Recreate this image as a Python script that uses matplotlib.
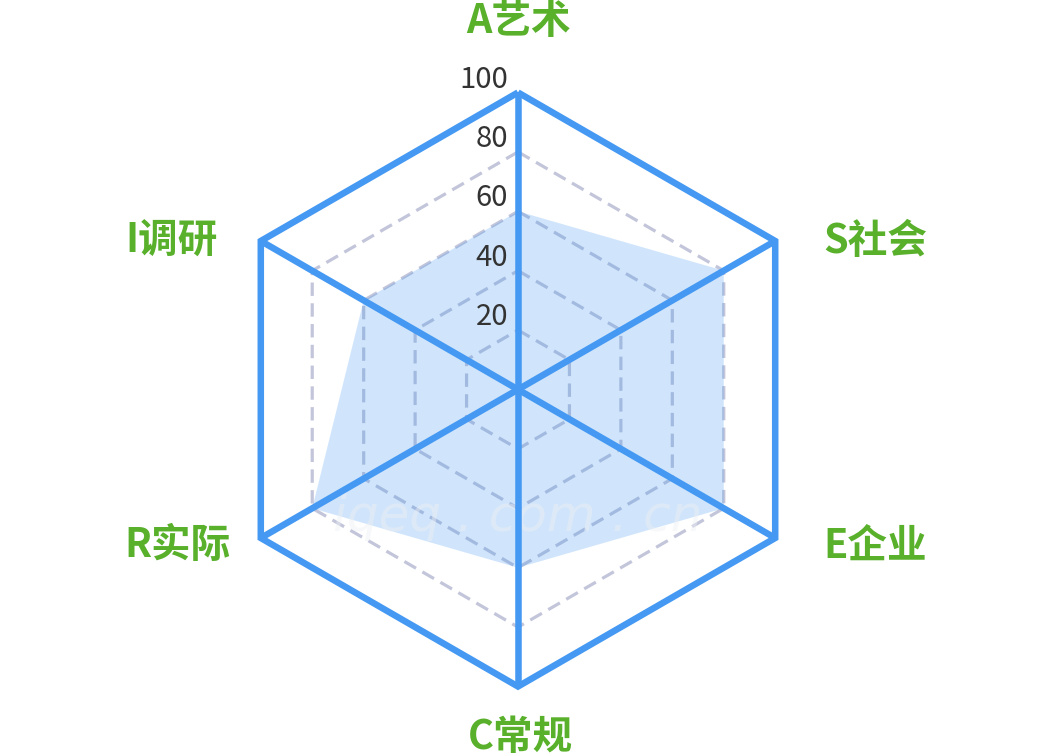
import numpy as np
import matplotlib
matplotlib.use("Agg")
import matplotlib.pyplot as plt

plt.rcParams['font.family'] = ['Noto Sans CJK SC', 'DejaVu Sans']

# ---- data ----
categories = ["A艺术", "S社会", "E企业", "C常规", "R实际", "I调研"]
values = [60, 80, 80, 60, 80, 60]
max_value = 100
grid_levels = [20, 40, 60, 80]
tick_labels = ["20", "40", "60", "80", "100"]
tick_values = [20, 40, 60, 80, 100]

# ---- styles ----
BLUE = "#4599f3"
GRID = "#c3c6da"
GREEN = "#59b02b"
TICK = "#333333"

W, H, DPI = 1056, 756, 100
PX = 2.97           # pixels per data unit
CX, CY = 518, 389.5  # centre in pixels from top-left

fig = plt.figure(figsize=(W / DPI, H / DPI), dpi=DPI)
ax = fig.add_axes([0, 0, 1, 1])
ax.set_xlim(-CX / PX, (W - CX) / PX)
ax.set_ylim(-(H - CY) / PX, CY / PX)
ax.set_aspect('equal')
ax.axis('off')

n = len(categories)
angles = np.deg2rad(90 - np.arange(n) * 360.0 / n)   # clockwise from top


def xy(r):
    r = np.asarray(r, dtype=float)
    return r * np.cos(angles), r * np.sin(angles)


def closed(a):
    return np.append(a, a[0])


# dashed grid hexagons
for lv in grid_levels:
    gx, gy = xy(np.full(n, lv))
    ax.plot(closed(gx), closed(gy), color=GRID, lw=2.3,
            linestyle=(0, (4.2, 2.3)), zorder=1, solid_joinstyle='miter')

# data area
dx, dy = xy(values)
ax.fill(dx, dy, color=BLUE, alpha=0.25, lw=0, zorder=2)

# spokes
ox, oy = xy(np.full(n, max_value))
for i in range(n):
    ax.plot([0, ox[i]], [0, oy[i]], color=BLUE, lw=4.7, zorder=3,
            solid_capstyle='butt')

# outer hexagon
ax.plot(closed(ox), closed(oy), color=BLUE, lw=4.7, zorder=4,
        solid_joinstyle='miter', solid_capstyle='butt')

# category labels
label_style = [
    ((0, 71), 'center'),
    ((48, 0), 'left'),
    ((48, -8.5), 'left'),
    ((2, -51), 'center'),
    ((-136, -7.5), 'left'),
    ((-135, 0), 'left'),
]
for i, name in enumerate(categories):
    off, ha = label_style[i]
    ax.annotate(name, (ox[i], oy[i]), xytext=off, textcoords='offset pixels',
                ha=ha, va='center', fontsize=28.5, fontweight='bold',
                color=GREEN, zorder=5)

# tick labels along the top axis
for tv, tl in zip(tick_values, tick_labels):
    ax.annotate(tl, (0, tv), xytext=(-10, 13), textcoords='offset pixels',
                ha='right', va='center', fontsize=21, color=TICK, zorder=5)

# faint watermark
ax.text(0, -43, "iqeq . com . cn", ha='center', va='center', fontsize=36,
        style='italic', color='#eef0f4', alpha=0.45,
        zorder=2.5, family=['DejaVu Sans'])

fig.savefig("out.png", dpi=DPI, facecolor='white')
